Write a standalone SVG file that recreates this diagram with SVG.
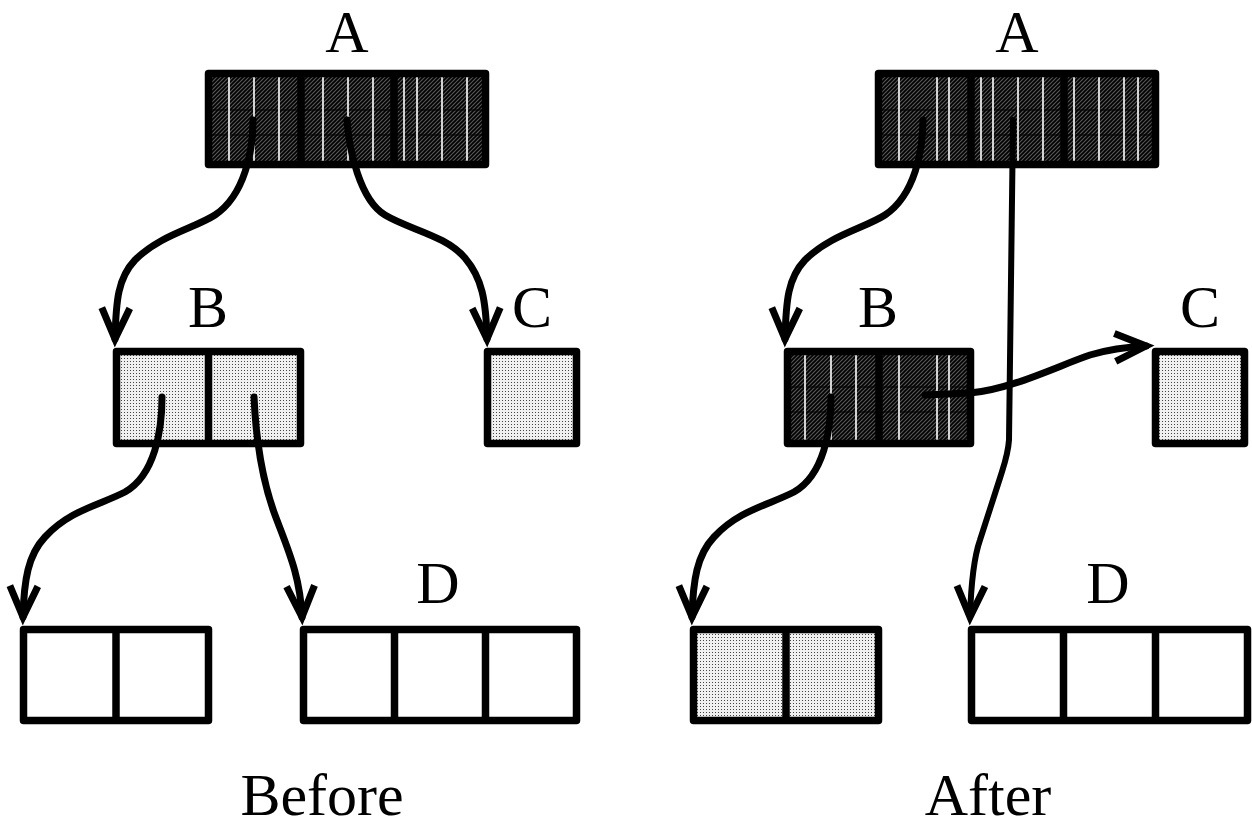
<svg xmlns="http://www.w3.org/2000/svg" width="1252" height="834" viewBox="0 0 1252 834">
<style>
.box{fill:none;stroke:#000;stroke-width:7.5;stroke-linejoin:round}
.div{fill:none;stroke:#000;stroke-width:7.5}
.white{fill:#fff}
.dark{fill:url(#dark)}
.light{fill:url(#dots)}
.wl{fill:none;stroke:#fff;stroke-width:1.6}
.hl{fill:none;stroke:#000;stroke-width:1.5;opacity:0.7}
.lbl{font-family:"Liberation Serif","Times New Roman",serif;font-size:60px;fill:#000;text-anchor:middle}
.conn{fill:none;stroke:#000;stroke-width:7;stroke-linecap:round;marker-end:url(#arr)}
</style>
<defs>
<pattern id="dark" patternUnits="userSpaceOnUse" width="4" height="4">
<rect width="4" height="4" fill="#555"/>
<path d="M-1,1 l2,-2 M0,4 l4,-4 M3,5 l2,-2" stroke="#000" stroke-width="1.6"/>
</pattern>
<pattern id="dots" patternUnits="userSpaceOnUse" width="3" height="3">
<rect width="3" height="3" fill="#f0f0f0"/>
<rect x="1" y="1" width="1" height="1" fill="#444"/>
</pattern>
<marker id="arr" markerUnits="userSpaceOnUse" orient="auto" overflow="visible" markerWidth="40" markerHeight="40" refX="0" refY="0">
<path d="M-31,-14 L0,0 L-31,14" fill="none" stroke="#000" stroke-width="7" stroke-linejoin="miter" stroke-linecap="butt"/>
</marker>
</defs>
<rect width="1252" height="834" fill="#fff"/>

<!-- BEFORE -->
<g id="before-A">
<rect class="dark" x="208.5" y="73.5" width="277" height="91"/>
<path class="hl" d="M208,110 H486 M208,135 H486"/>
<path class="wl" d="M229,77 V161 M254,77 V161 M279,77 V161 M323,77 V161 M348,77 V161 M373,77 V161 M404,77 V161 M417,77 V161 M442,77 V161 M467,77 V161"/>
<rect class="box" x="208.5" y="73.5" width="277" height="91"/>
<path class="div" d="M301,73.5 V164.5 M394,73.5 V164.5"/>
<text class="lbl" x="347" y="52">A</text>
</g>
<g id="before-B">
<rect class="light" x="116.5" y="351.5" width="184" height="92"/>
<rect class="box" x="116.5" y="351.5" width="184" height="92"/>
<path class="div" d="M208.5,351.5 V443.5"/>
<text class="lbl" x="208" y="327">B</text>
</g>
<g id="before-C">
<rect class="light" x="487.5" y="351.5" width="89" height="92"/>
<rect class="box" x="487.5" y="351.5" width="89" height="92"/>
<text class="lbl" x="532" y="327">C</text>
</g>
<g id="before-E">
<rect class="white" x="23.5" y="629.5" width="185" height="91"/>
<rect class="box" x="23.5" y="629.5" width="185" height="91"/>
<path class="div" d="M116,629.5 V720.5"/>
</g>
<g id="before-D">
<rect class="white" x="303.5" y="629.5" width="273" height="91"/>
<rect class="box" x="303.5" y="629.5" width="273" height="91"/>
<path class="div" d="M394.5,629.5 V720.5 M485.5,629.5 V720.5"/>
<text class="lbl" x="438" y="603">D</text>
</g>
<text class="lbl" x="322" y="815">Before</text>

<!-- AFTER -->
<g id="after-A">
<rect class="dark" x="878.5" y="73.5" width="277" height="91"/>
<path class="hl" d="M878,110 H1156 M878,135 H1156"/>
<path class="wl" d="M899,77 V161 M937,77 V161 M949,77 V161 M981,77 V161 M993,77 V161 M1018,77 V161 M1043,77 V161 M1074,77 V161 M1099,77 V161 M1124,77 V161 M1138,77 V161"/>
<rect class="box" x="878.5" y="73.5" width="277" height="91"/>
<path class="div" d="M971,73.5 V164.5 M1064,73.5 V164.5"/>
<text class="lbl" x="1017" y="52">A</text>
</g>
<g id="after-B">
<rect class="dark" x="787.5" y="351.5" width="183" height="92"/>
<path class="hl" d="M787,387 H971 M787,412 H971"/>
<path class="wl" d="M805,355 V440 M831,355 V440 M856,355 V440 M899,355 V440 M937,355 V440 M949,355 V440"/>
<rect class="box" x="787.5" y="351.5" width="183" height="92"/>
<path class="div" d="M879,351.5 V443.5"/>
<text class="lbl" x="878" y="327">B</text>
</g>
<g id="after-C">
<rect class="light" x="1155.5" y="351.5" width="89" height="92"/>
<rect class="box" x="1155.5" y="351.5" width="89" height="92"/>
<text class="lbl" x="1200" y="327">C</text>
</g>
<g id="after-E">
<rect class="light" x="693.5" y="629.5" width="185" height="91"/>
<rect class="box" x="693.5" y="629.5" width="185" height="91"/>
<path class="div" d="M786,629.5 V720.5"/>
</g>
<g id="after-D">
<rect class="white" x="971.5" y="629.5" width="276" height="91"/>
<rect class="box" x="971.5" y="629.5" width="276" height="91"/>
<path class="div" d="M1063.5,629.5 V720.5 M1155.5,629.5 V720.5"/>
<text class="lbl" x="1108" y="603">D</text>
</g>
<text class="lbl" x="988" y="815">After</text>

<!-- connectors -->
<g id="connectors">
<path class="conn" d="M253,120 C253,150 245,195 215,215 C195,228 160,235 135,260 C118,278 116,300 115,339"/>
<path class="conn" d="M347,120 C349,150 360,200 385,215 C410,230 445,235 465,258 C482,278 486,300 487,339"/>
<path class="conn" d="M162,397 C162,430 155,475 125,492 C100,505 70,510 45,537 C28,555 24,580 23,617"/>
<path class="conn" d="M254,397 C256,440 262,480 275,515 C288,550 300,575 302,617"/>
<path class="conn" d="M923,120 C923,150 915,195 885,215 C865,228 830,235 805,260 C788,278 786,300 785,339"/>
<path class="conn" style="stroke-width:6" d="M1013,120 L1009,440 C1008,455 1004,465 1000,478 L980,540 C973,560 971,585 970,617"/>
<path class="conn" d="M831,397 C831,430 824,475 794,492 C769,505 739,510 714,537 C697,555 693,580 692,617"/>
<path class="conn" d="M925,395 L970,393 C1010,390 1060,365 1090,355 C1110,349 1125,347 1146,346"/>
</g>
</svg>
